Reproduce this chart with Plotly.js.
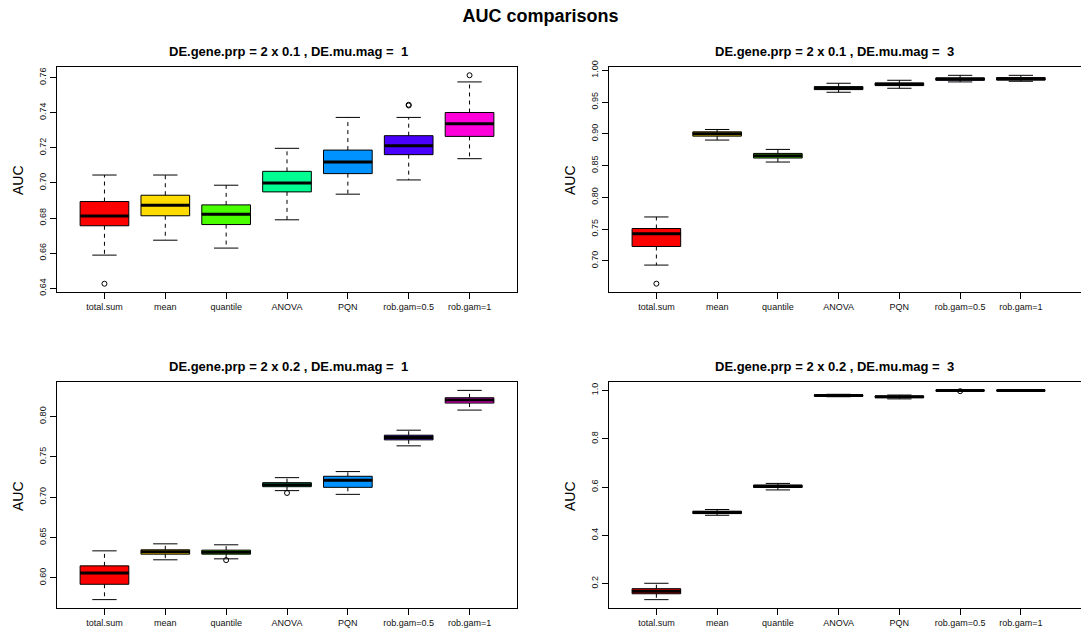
<!DOCTYPE html>
<html>
<head>
<meta charset="utf-8">
<script src="https://cdn.plot.ly/plotly-3.0.1.min.js"></script>
<style>
  html, body { margin: 0; padding: 0; background: #fff; }
  #chart { width: 1081px; height: 635px; }
</style>
</head>
<body>
<div id="chart"></div>
<script>
// ---------- data ----------
const categories = ['total.sum', 'mean', 'quantile', 'ANOVA', 'PQN', 'rob.gam=0.5', 'rob.gam=1'];
const boxColors = ['#FF0000', '#FFDB00', '#49FF00', '#00FF92', '#0092FF', '#4900FF', '#FF00DB'];

// Panel 1: DE.gene.prp = 2 x 0.1 , DE.mu.mag = 1
const p1Lower  = [0.6589, 0.6674, 0.6629, 0.6790, 0.6936, 0.7017, 0.7138];
const p1Q1     = [0.6756, 0.6813, 0.6763, 0.6949, 0.7053, 0.7161, 0.7265];
const p1Median = [0.6811, 0.6873, 0.6822, 0.7000, 0.7119, 0.7212, 0.7337];
const p1Q3     = [0.6894, 0.6930, 0.6875, 0.7066, 0.7187, 0.7269, 0.7401];
const p1Upper  = [0.7045, 0.7045, 0.6987, 0.7197, 0.7373, 0.7373, 0.7575];
const p1OutCat = ['total.sum', 'rob.gam=0.5', 'rob.gam=0.5', 'rob.gam=1'];
const p1OutVal = [0.6426, 0.7445, 0.7441, 0.7613];

// Panel 2: DE.gene.prp = 2 x 0.1 , DE.mu.mag = 3
const p2Lower  = [0.6932, 0.8901, 0.8555, 0.9654, 0.9717, 0.9817, 0.9827];
const p2Q1     = [0.7225, 0.8963, 0.8618, 0.9696, 0.9759, 0.9843, 0.9848];
const p2Median = [0.7424, 0.9000, 0.8654, 0.9717, 0.9780, 0.9864, 0.9864];
const p2Q3     = [0.7508, 0.9031, 0.8691, 0.9743, 0.9801, 0.9880, 0.9885];
const p2Upper  = [0.7690, 0.9068, 0.8754, 0.9796, 0.9843, 0.9921, 0.9921];
const p2OutCat = ['total.sum'];
const p2OutVal = [0.6639];

// Panel 3: DE.gene.prp = 2 x 0.2 , DE.mu.mag = 1
const p3Lower  = [0.5731, 0.6224, 0.6236, 0.7081, 0.7035, 0.7636, 0.8079];
const p3Q1     = [0.5921, 0.6294, 0.6294, 0.7130, 0.7122, 0.7710, 0.8166];
const p3Median = [0.6062, 0.6323, 0.6319, 0.7155, 0.7209, 0.7739, 0.8203];
const p3Q3     = [0.6149, 0.6348, 0.6344, 0.7180, 0.7259, 0.7768, 0.8232];
const p3Upper  = [0.6335, 0.6422, 0.6410, 0.7242, 0.7317, 0.7830, 0.8323];
const p3OutCat = ['quantile', 'ANOVA'];
const p3OutVal = [0.6220, 0.7052];

// Panel 4: DE.gene.prp = 2 x 0.2 , DE.mu.mag = 3
const p4Lower  = [0.1336, 0.483, 0.588, 0.974, 0.965, 0.998, 0.9996];
const p4Q1     = [0.158, 0.490, 0.598, 0.976, 0.970, 0.999, 0.9998];
const p4Median = [0.168, 0.495, 0.603, 0.979, 0.974, 1.000, 1.000];
const p4Q3     = [0.179, 0.500, 0.608, 0.982, 0.977, 1.000, 1.000];
const p4Upper  = [0.2014, 0.507, 0.615, 0.984, 0.981, 1.000, 1.000];
const p4OutCat = ['rob.gam=0.5'];
const p4OutVal = [0.997];

const panelTitles = [
  'DE.gene.prp = 2 x 0.1 , DE.mu.mag =  1',
  'DE.gene.prp = 2 x 0.1 , DE.mu.mag =  3',
  'DE.gene.prp = 2 x 0.2 , DE.mu.mag =  1',
  'DE.gene.prp = 2 x 0.2 , DE.mu.mag =  3'
];
const mainTitle = 'AUC comparisons';
const yLabel = 'AUC';

// ---------- build ----------
const FONT = 'Liberation Sans, Arial, Helvetica, sans-serif';
const BOXW = 0.8, CAPW = 0.4;

const panels = [
  {lo: p1Lower, q1: p1Q1, med: p1Median, q3: p1Q3, up: p1Upper, oc: p1OutCat, ov: p1OutVal, xa: 'x',  ya: 'y'},
  {lo: p2Lower, q1: p2Q1, med: p2Median, q3: p2Q3, up: p2Upper, oc: p2OutCat, ov: p2OutVal, xa: 'x2', ya: 'y2'},
  {lo: p3Lower, q1: p3Q1, med: p3Median, q3: p3Q3, up: p3Upper, oc: p3OutCat, ov: p3OutVal, xa: 'x3', ya: 'y3'},
  {lo: p4Lower, q1: p4Q1, med: p4Median, q3: p4Q3, up: p4Upper, oc: p4OutCat, ov: p4OutVal, xa: 'x4', ya: 'y4'}
];

const traces = [];
panels.forEach(p => {
  // boxes (whiskers drawn separately, dashed)
  categories.forEach((c, i) => {
    traces.push({
      type: 'box', x: [i + 1], q1: [p.q1[i]], median: [p.med[i]], q3: [p.q3[i]],
      lowerfence: [p.q1[i]], upperfence: [p.q3[i]],
      width: BOXW, whiskerwidth: 0, fillcolor: boxColors[i],
      line: {color: '#000', width: 1}, boxpoints: false,
      xaxis: p.xa, yaxis: p.ya, showlegend: false, hoverinfo: 'skip'
    });
  });
  // dashed whiskers
  const wx = [], wy = [];
  categories.forEach((c, i) => {
    wx.push(i + 1, i + 1, null, i + 1, i + 1, null);
    wy.push(p.q3[i], p.up[i], null, p.q1[i], p.lo[i], null);
  });
  traces.push({type: 'scatter', mode: 'lines', x: wx, y: wy, line: {color: '#000', width: 1, dash: '4px,4px'},
    xaxis: p.xa, yaxis: p.ya, showlegend: false, hoverinfo: 'skip'});
  // staples
  const sx = [], sy = [];
  categories.forEach((c, i) => {
    sx.push(i + 1 - CAPW / 2, i + 1 + CAPW / 2, null, i + 1 - CAPW / 2, i + 1 + CAPW / 2, null);
    sy.push(p.up[i], p.up[i], null, p.lo[i], p.lo[i], null);
  });
  traces.push({type: 'scatter', mode: 'lines', x: sx, y: sy, line: {color: '#000', width: 1},
    xaxis: p.xa, yaxis: p.ya, showlegend: false, hoverinfo: 'skip'});
  // thick medians
  const mx = [], my = [];
  categories.forEach((c, i) => {
    mx.push(i + 1 - BOXW / 2, i + 1 + BOXW / 2, null);
    my.push(p.med[i], p.med[i], null);
  });
  traces.push({type: 'scatter', mode: 'lines', x: mx, y: my, line: {color: '#000', width: 3},
    xaxis: p.xa, yaxis: p.ya, showlegend: false, hoverinfo: 'skip'});
  // outliers
  traces.push({type: 'scatter', mode: 'markers', x: p.oc.map(c => categories.indexOf(c) + 1), y: p.ov,
    marker: {symbol: 'circle-open', size: 5, color: '#000', line: {width: 1, color: '#000'}},
    xaxis: p.xa, yaxis: p.ya, showlegend: false, hoverinfo: 'skip'});
});

const W = 1081, H = 635;
const xLeft = [57 / W, 517 / W], xRight = [609 / W, 1];
const yTop = [1 - 292 / H, 1 - 67 / H], yBot = [1 - 608 / H, 1 - 382 / H];

function xaxisCfg(domain, anchor, range, rightSide) {
  return {
    domain: domain, anchor: anchor, range: range,
    tickmode: 'array', tickvals: categories.map((c, i) => i + 1), ticktext: categories,
    ticks: 'outside', ticklen: 6, tickcolor: '#000', tickwidth: 1,
    showline: true, linecolor: '#000', linewidth: 1, mirror: true,
    showgrid: false, zeroline: false,
    tickfont: {family: FONT, size: 9, color: '#111'}, fixedrange: true
  };
}
function yaxisCfg(domain, anchor, range, dtick, fmt, mirror) {
  return {
    domain: domain, anchor: anchor, range: range,
    dtick: dtick, tick0: 0, tickformat: fmt, tickangle: -90,
    ticks: 'outside', ticklen: 6, tickcolor: '#000', tickwidth: 1,
    showline: true, linecolor: '#000', linewidth: 1, mirror: mirror,
    showgrid: false, zeroline: false,
    tickfont: {family: FONT, size: 9, color: '#111'}, fixedrange: true
  };
}

const annFont = {family: FONT, size: 13, color: '#000'};
const layout = {
  width: W, height: H,
  margin: {l: 0, r: 0, t: 0, b: 0},
  paper_bgcolor: '#fff', plot_bgcolor: '#fff',
  showlegend: false,
  title: {text: '<b>' + mainTitle + '</b>', x: 0.5, xanchor: 'center', y: 1 - 16 / H, yanchor: 'middle',
    font: {family: FONT, size: 18, color: '#000'}},
  xaxis:  xaxisCfg(xLeft, 'y', [0.22, 7.78]),
  yaxis:  yaxisCfg(yTop, 'x', [0.6379, 0.7660], 0.02, '.2f', true),
  xaxis2: xaxisCfg(xRight, 'y2', [0.22, 7.99]),
  yaxis2: yaxisCfg(yTop, 'x2', [0.6508, 1.0052], 0.05, '.2f', false),
  xaxis3: xaxisCfg(xLeft, 'y3', [0.22, 7.78]),
  yaxis3: yaxisCfg(yBot, 'x3', [0.5627, 0.8427], 0.05, '.2f', true),
  xaxis4: xaxisCfg(xRight, 'y4', [0.22, 7.99]),
  yaxis4: yaxisCfg(yBot, 'x4', [0.099, 1.035], 0.2, '.1f', false),
  annotations: [
    {text: '<b>' + panelTitles[0] + '</b>', xref: 'paper', yref: 'paper', x: 288 / W, y: 1 - 51 / H, showarrow: false, font: annFont, xanchor: 'center', yanchor: 'middle'},
    {text: '<b>' + panelTitles[1] + '</b>', xref: 'paper', yref: 'paper', x: 834 / W, y: 1 - 51 / H, showarrow: false, font: annFont, xanchor: 'center', yanchor: 'middle'},
    {text: '<b>' + panelTitles[2] + '</b>', xref: 'paper', yref: 'paper', x: 288 / W, y: 1 - 366 / H, showarrow: false, font: annFont, xanchor: 'center', yanchor: 'middle'},
    {text: '<b>' + panelTitles[3] + '</b>', xref: 'paper', yref: 'paper', x: 834 / W, y: 1 - 366 / H, showarrow: false, font: annFont, xanchor: 'center', yanchor: 'middle'},
    {text: yLabel, xref: 'paper', yref: 'paper', x: 18 / W, y: 1 - 180 / H, textangle: -90, showarrow: false, font: {family: FONT, size: 14, color: '#000'}, xanchor: 'center', yanchor: 'middle'},
    {text: yLabel, xref: 'paper', yref: 'paper', x: 570 / W, y: 1 - 180 / H, textangle: -90, showarrow: false, font: {family: FONT, size: 14, color: '#000'}, xanchor: 'center', yanchor: 'middle'},
    {text: yLabel, xref: 'paper', yref: 'paper', x: 18 / W, y: 1 - 496 / H, textangle: -90, showarrow: false, font: {family: FONT, size: 14, color: '#000'}, xanchor: 'center', yanchor: 'middle'},
    {text: yLabel, xref: 'paper', yref: 'paper', x: 570 / W, y: 1 - 496 / H, textangle: -90, showarrow: false, font: {family: FONT, size: 14, color: '#000'}, xanchor: 'center', yanchor: 'middle'}
  ]
};

Plotly.newPlot('chart', traces, layout, {staticPlot: true, displayModeBar: false});
</script>
</body>
</html>
